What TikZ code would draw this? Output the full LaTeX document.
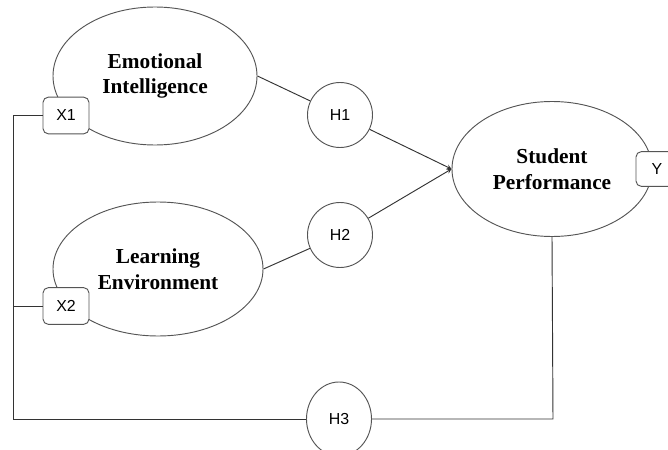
\documentclass[tikz,border=0pt]{standalone}
\usepackage{fontspec}
\setmainfont{Liberation Serif}
\setsansfont{Liberation Sans}
\usetikzlibrary{positioning, shapes, shapes.geometric, arrows}
\definecolor{linegray}{HTML}{333333}
\definecolor{rimgray}{HTML}{555555}
\tikzset{latent/.style={ellipse, draw=rimgray, line width=0.8pt, align=center, inner sep=0pt, font=\fontsize{18.2}{21.8}\selectfont\bfseries}}
\tikzset{indic/.style={rectangle, rounded corners=4.5pt, draw=rimgray, fill=white, line width=0.8pt, inner sep=0pt, minimum width=1.38cm, minimum height=1.1cm, font=\sffamily\fontsize{13.6}{16}\selectfont}}
\tikzset{hyp/.style={ellipse, draw=rimgray, fill=white, line width=0.8pt, inner sep=0pt, minimum width=1.95cm, minimum height=1.95cm, font=\sffamily\fontsize{13.6}{16}\selectfont}}
\tikzset{link/.style={draw=linegray, line width=0.8pt}}
\tikzset{arr/.style={link, ->, >=stealth}}

\begin{document}
\begin{tikzpicture}[x=0.03cm, y=-0.03cm]
        \useasboundingbox (0,0) rectangle (668,450);
        % constructs
        \node[latent, minimum width=6.12cm, minimum height=4.14cm] (EI) at (155,76) {Emotional\\Intelligence};
        \node[latent, minimum width=6.3cm, minimum height=4.02cm] (LE) at (158,269) {Learning\\Environment};
        \node[latent, minimum width=6.0cm, minimum height=4.05cm] (SP) at (552,169) {Student\\Performance};
        % indicators
        \node[indic] (X1) at (66,115.5) {X1};
        \node[indic] (X2) at (66,306) {X2};
        \node[indic, minimum width=1.26cm, minimum height=1.04cm] (Y) at (657,169) {Y};
        % hypotheses
        \node[hyp] (H1) at (340,115) {H1};
        \node[hyp] (H2) at (340,235) {H2};
        \node[hyp, minimum height=2.22cm] (H3) at (339,419) {H3};
        \coordinate (topleft) at (13,115.5);
        \coordinate (midleft) at (13,306);
        \coordinate (botleft) at (13,419);
        \coordinate (botright) at (553,419);
        % paths
        \draw[link] (EI.east) -- (H1);
        \draw[link] (LE.east) -- (H2);
        \draw[arr] (H1) -- (SP.west);
        \draw[arr] (H2) -- (SP.west);
        \draw[link] (X1.west) -- (topleft) -- (botleft) -- (H3.west);
        \draw[link] (X2.west) -- (midleft);
        \draw[link] (H3.east) -- (botright) -- (SP.south);
\end{tikzpicture}
\end{document}
